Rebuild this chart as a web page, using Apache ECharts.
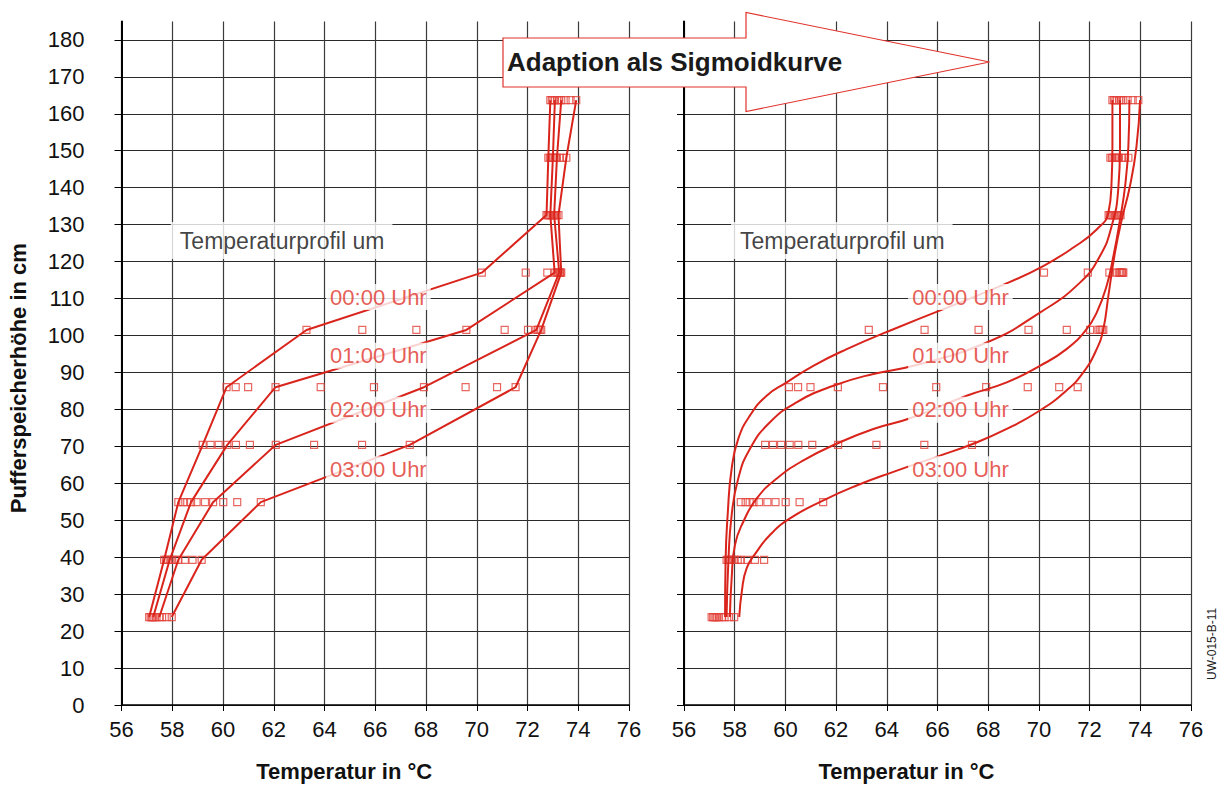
<!DOCTYPE html>
<html>
<head>
<meta charset="utf-8">
<title>Temperaturprofil Pufferspeicher</title>
<script src="https://cdn.jsdelivr.net/npm/echarts@6/dist/echarts.min.js"></script>
<style>
  html, body { margin: 0; padding: 0; background: #fff; }
  #chart { width: 1219px; height: 787px; }
</style>
</head>
<body>
<div id="chart"></div>
<script>
// Messhöhen im Pufferspeicher (cm)
const heights = [23.8, 39.3, 54.9, 70.4, 86.0, 101.5, 117.0, 132.6, 148.1, 163.7];

// gemessene Profile alle 20 min (°C je Höhe)
const p0000 = [57.09, 57.68, 58.24, 59.20, 60.14, 63.29, 70.20, 72.75, 72.82, 72.90];
const p0020 = [57.15, 57.75, 58.43, 59.51, 60.50, 65.49, 71.93, 72.80, 72.88, 72.96];
const p0040 = [57.20, 57.82, 58.59, 59.83, 60.99, 67.62, 72.78, 72.85, 72.94, 73.02];
const p0100 = [57.25, 57.90, 58.74, 60.17, 62.07, 69.59, 73.07, 72.90, 73.00, 73.08];
const p0120 = [57.30, 58.00, 58.96, 60.51, 63.85, 71.10, 73.15, 72.95, 73.06, 73.16];
const p0140 = [57.38, 58.12, 59.29, 61.06, 65.95, 72.02, 73.20, 73.00, 73.11, 73.25];
const p0200 = [57.49, 58.24, 59.61, 62.08, 67.92, 72.35, 73.25, 73.05, 73.16, 73.33];
const p0220 = [57.60, 58.50, 60.01, 63.59, 69.56, 72.42, 73.28, 73.10, 73.28, 73.50];
const p0240 = [57.78, 58.80, 60.56, 65.48, 70.80, 72.48, 73.30, 73.15, 73.40, 73.70];
const p0300 = [57.98, 59.16, 61.49, 67.36, 71.53, 72.54, 73.33, 73.22, 73.53, 73.92];
const profiles = [p0000, p0020, p0040, p0100, p0120, p0140, p0200, p0220, p0240, p0300];
const lineProfiles = [p0000, p0100, p0200, p0300];

const sig0000 = [[57.62, 23.8], [57.64, 38.8], [57.73, 52.3], [57.88, 64.0], [58.14, 72.0], [58.60, 78.3],
  [59.26, 83.7], [60.05, 87.3], [61.10, 91.8], [62.42, 96.3], [64.26, 101.7], [68.66, 113.9], [70.17, 118.8],
  [71.36, 123.8], [72.28, 128.7], [72.74, 133.2], [72.87, 142.2], [72.90, 151.2], [72.90, 163.7]];
const sig0100 = [[57.68, 23.8], [57.75, 38.8], [57.88, 51.4], [58.14, 61.3], [58.60, 69.3], [59.39, 76.5],
  [60.44, 81.9], [61.89, 86.4], [63.47, 89.6], [65.05, 91.8], [67.94, 98.1], [70.04, 106.2], [71.62, 114.3],
  [72.41, 121.5], [72.87, 129.6], [73.13, 139.5], [73.20, 151.2], [73.20, 163.7]];
const sig0200 = [[57.81, 23.8], [57.88, 34.3], [58.01, 43.3], [58.34, 49.6], [58.87, 55.9], [59.66, 61.3],
  [60.71, 66.2], [62.02, 70.7], [63.47, 74.7], [64.92, 77.6], [67.15, 83.7], [68.73, 87.3], [70.04, 91.8],
  [71.09, 96.3], [71.88, 101.7], [72.28, 106.2], [72.67, 113.4], [72.94, 121.5], [73.20, 131.4],
  [73.40, 140.4], [73.53, 151.2], [73.57, 163.7]];
const sig0300 = [[58.18, 23.8], [58.28, 30.7], [58.47, 37.0], [58.87, 41.5], [59.39, 46.0], [60.18, 50.5],
  [61.50, 55.4], [62.81, 59.4], [64.26, 63.1], [66.10, 67.5], [67.41, 70.7], [68.73, 74.7], [70.04, 79.7],
  [71.09, 85.1], [71.75, 90.0], [72.28, 96.3], [72.54, 101.7], [72.74, 110.7], [73.00, 122.4],
  [73.27, 131.4], [73.59, 140.4], [73.85, 151.2], [73.99, 163.7]];
const sigCurves = [sig0000, sig0100, sig0200, sig0300];

// Beschriftungen
const timeLabels = ['00:00 Uhr', '01:00 Uhr', '02:00 Uhr', '03:00 Uhr'];
const timeLabelY = [110.4, 94.5, 79.9, 63.8];
const timeLabelX = [64.22, 65.0];
const titleLabelX = [58.3, 58.21];
const titleLabelY = 125.7;
const yTicks = [0, 10, 20, 30, 40, 50, 60, 70, 80, 90, 100, 110, 120, 130, 140, 150, 160, 170, 180];

const RED = '#d9241c';
const FONT = 'Liberation Sans, Arial, sans-serif';

const chart = echarts.init(document.getElementById('chart'), null, { renderer: 'svg' });

const panels = [
  { left: 121.5, width: 507.5, showY: true },
  { left: 684, width: 507, showY: false }
];

const grid = panels.map(p => ({ left: p.left, top: 21.4, width: p.width, height: 685.6 }));

const xAxis = panels.map((p, i) => ({
  type: 'value', gridIndex: i, min: 56, max: 76, interval: 2,
  name: 'Temperatur in °C', nameLocation: 'middle', nameGap: 55,
  nameTextStyle: { fontFamily: FONT, fontSize: 22, fontWeight: 'bold', color: '#111', padding: [0, 62, 0, 0] },
  axisLine: { show: true, lineStyle: { color: '#000', width: 1.5 } },
  axisTick: { show: true, length: 6, lineStyle: { color: '#000' } },
  axisLabel: { fontFamily: FONT, fontSize: 22, color: '#111', margin: 13 },
  splitLine: { show: true, lineStyle: { color: '#3a3a3a', width: 1.2 } }
}));

const yAxis = panels.map((p, i) => ({
  type: 'value', gridIndex: i, min: 0, max: 185, interval: 10,
  name: p.showY ? 'Pufferspeicherhöhe in cm' : '', nameLocation: 'middle', nameGap: 92,
  nameTextStyle: { fontFamily: FONT, fontSize: 22, fontWeight: 'bold', color: '#111', padding: [0, 30, 0, 0] },
  axisLine: { show: true, lineStyle: { color: '#000', width: 2 } },
  axisTick: { show: true, length: 7, customValues: yTicks, lineStyle: { color: '#000' } },
  axisLabel: { show: p.showY, customValues: yTicks, fontFamily: FONT, fontSize: 22, color: '#111', margin: 37 },
  splitLine: { show: true, lineStyle: { color: '#2a2a2a', width: 1.2 } }
}));

const series = [];

// Messpunkte in beiden Diagrammen
panels.forEach((p, i) => {
  const pts = [];
  profiles.forEach(pr => pr.forEach((t, k) => pts.push([t, heights[k]])));
  series.push({
    type: 'scatter', xAxisIndex: i, yAxisIndex: i, z: 3,
    symbol: 'rect', symbolSize: 7, data: pts,
    itemStyle: { color: 'rgba(255,255,255,0)', borderColor: '#e2413a', borderWidth: 1.2 }
  });
});

// links: Polygonzüge
lineProfiles.forEach(pr => {
  series.push({
    type: 'line', xAxisIndex: 0, yAxisIndex: 0, z: 4, showSymbol: false,
    data: pr.map((t, k) => [t, heights[k]]),
    lineStyle: { color: RED, width: 2 }
  });
});

// rechts: Sigmoidkurven
sigCurves.forEach(c => {
  series.push({
    type: 'line', xAxisIndex: 1, yAxisIndex: 1, z: 4, showSymbol: false,
    smooth: 0.5,
    data: c,
    lineStyle: { color: RED, width: 2 }
  });
});

// Textfelder
panels.forEach((p, i) => {
  const data = [{ value: [titleLabelX[i], titleLabelY], name: 'Temperaturprofil um', dark: true }];
  timeLabels.forEach((t, k) => data.push({ value: [timeLabelX[i], timeLabelY[k]], name: t }));
  series.push({
    type: 'scatter', xAxisIndex: i, yAxisIndex: i, z: 10, symbolSize: 0, silent: true,
    data: data.map(d => ({
      value: d.value, name: d.name,
      label: {
        show: true, position: 'right', distance: 0, formatter: '{b}',
        fontFamily: FONT, fontSize: d.dark ? 23 : 22,
        color: d.dark ? '#111' : '#e0332b',
        backgroundColor: '#fff',
        padding: d.dark ? [7, 8, 7, 9] : [2, 4, 2, 4],
        offset: d.dark ? [-9, 0] : [-4, 0]
      }
    }))
  });
});

chart.setOption({
  backgroundColor: '#fff',
  animation: false,
  grid, xAxis, yAxis, series,
  graphic: [
    {
      type: 'polygon', z: 20,
      shape: { points: [[503, 38], [746, 38], [746, 12.5], [989.5, 62], [746, 111.5], [746, 87], [503, 87]] },
      style: { fill: '#fff', stroke: '#e0322b', lineWidth: 1.2 }
    },
    {
      type: 'text', z: 21, left: 507, top: 49,
      style: { text: 'Adaption als Sigmoidkurve', fontFamily: FONT, fontSize: 26, fontWeight: 'bold', fill: '#1a1a1a' }
    },
    {
      type: 'text', z: 21, x: 1206, y: 680, rotation: Math.PI / 2,
      style: { text: 'UW-015-B-11', fontFamily: FONT, fontSize: 12, fill: '#222' }
    }
  ]
});

window.addEventListener('resize', () => chart.resize());
</script>
</body>
</html>
